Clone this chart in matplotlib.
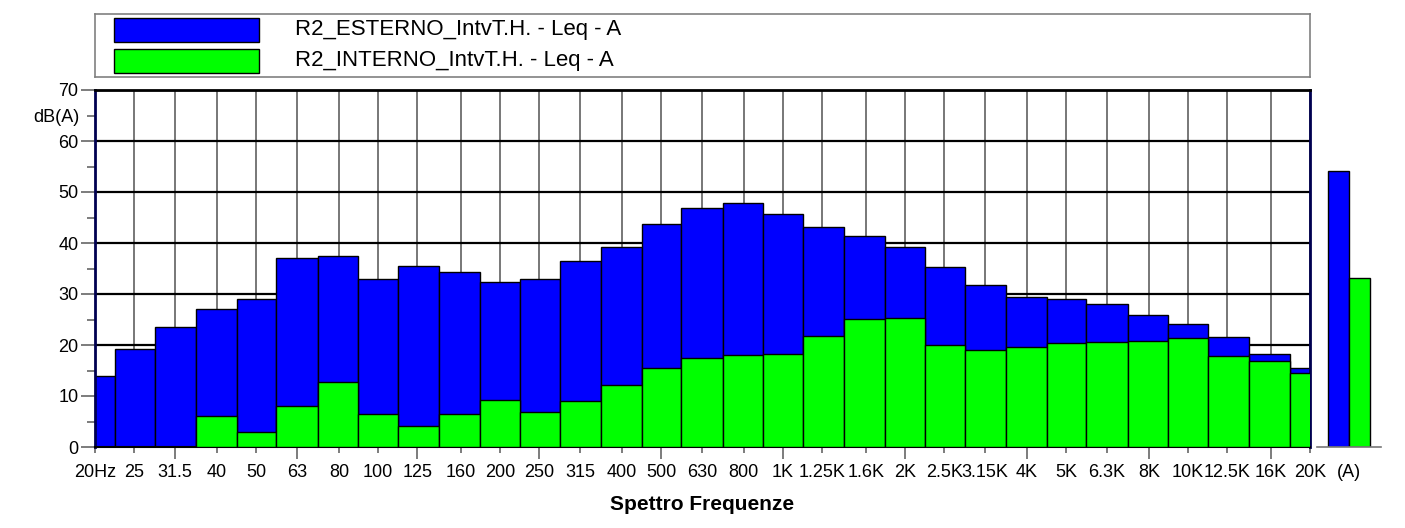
import numpy as np
import matplotlib
matplotlib.use("Agg")
import matplotlib.pyplot as plt
from matplotlib.patches import Rectangle
from matplotlib.ticker import NullLocator

plt.rcParams['font.family'] = ['Liberation Sans', 'DejaVu Sans']

# Third-octave band centres (Hz) and their axis labels
bands_hz = [20, 25, 31.5, 40, 50, 63, 80, 100, 125, 160, 200, 250, 315, 400,
            500, 630, 800, 1000, 1250, 1600, 2000, 2500, 3150, 4000, 5000,
            6300, 8000, 10000, 12500, 16000, 20000]
band_labels = ["20Hz", "25", "31.5", "40", "50", "63", "80", "100", "125",
               "160", "200", "250", "315", "400", "500", "630", "800", "1K",
               "1.25K", "1.6K", "2K", "2.5K", "3.15K", "4K", "5K", "6.3K",
               "8K", "10K", "12.5K", "16K", "20K"]
octave_hz = [31.5, 63, 125, 250, 500, 1000, 2000, 4000, 8000, 16000]

# Leq spectra, dB(A)
esterno_leq = [13.9, 19.3, 23.5, 27.0, 29.0, 37.1, 37.4, 32.9, 35.4, 34.3,
               32.3, 32.9, 36.4, 39.3, 43.7, 46.8, 47.9, 45.6, 43.1, 41.4,
               39.2, 35.3, 31.8, 29.5, 29.1, 28.1, 25.9, 24.1, 21.5, 18.2,
               15.4]
interno_leq = [np.nan, np.nan, np.nan, 6.0, 3.0, 8.0, 12.8, 6.4, 4.1, 6.4,
               9.2, 6.8, 9.0, 12.2, 15.4, 17.5, 18.1, 18.3, 21.8, 25.1,
               25.2, 20.0, 19.1, 19.7, 20.4, 20.6, 20.8, 21.4, 17.9, 16.9,
               14.6]

# Overall A-weighted levels
total_labels = ["(A)"]
esterno_total = 54.1
interno_total = 33.1

series_names = ["R2_ESTERNO_IntvT.H. - Leq - A", "R2_INTERNO_IntvT.H. - Leq - A"]
BLUE = "#0000FF"
GREEN = "#00FF00"

W, H = 1405, 528
fig = plt.figure(figsize=(W / 100, H / 100), dpi=100)


def px_axes(left, top, right, bottom):
    return fig.add_axes([left / W, (H - bottom) / H, (right - left) / W,
                         (bottom - top) / H])


# ---- main spectrum ----
ax = px_axes(95, 90, 1310, 447)
centres = np.array(bands_hz, dtype=float)
mids = np.sqrt(centres[:-1] * centres[1:])
lower = np.r_[centres[0] ** 2 / mids[0], mids]
upper = np.r_[mids, centres[-1] ** 2 / mids[-1]]
widths = upper - lower

ax.bar(lower, esterno_leq, width=widths, align='edge', color=BLUE,
       edgecolor='black', linewidth=1.0, zorder=2)
ax.bar(lower, interno_leq, width=widths, align='edge', color=GREEN,
       edgecolor='black', linewidth=1.0, zorder=3)

ax.set_xscale('log')
ax.set_xlim(bands_hz[0], bands_hz[-1])
ax.set_ylim(0, 70)

major_idx = [i for i, f in enumerate(bands_hz) if f in octave_hz]
minor_idx = [i for i, f in enumerate(bands_hz) if f not in octave_hz]
ax.set_xticks([bands_hz[i] for i in major_idx],
              [band_labels[i] for i in major_idx])
ax.set_xticks([bands_hz[i] for i in minor_idx],
              [band_labels[i] for i in minor_idx], minor=True)
ax.tick_params(axis='x', which='major', length=8.6, pad=3.6, width=1.2,
               color='#666666', labelsize=13)
ax.tick_params(axis='x', which='minor', length=4.3, pad=7.9, width=1.2,
               color='#666666', labelsize=13)

ax.set_yticks(range(0, 71, 10))
ax.set_yticks(range(5, 66, 10), [""] * 6 + ["dB(A)"], minor=True)
ax.tick_params(axis='y', which='major', length=10, pad=2, width=1.2,
               color='#666666', labelsize=13)
ax.tick_params(axis='y', which='minor', length=5.5, pad=5.8, width=1.2,
               color='#666666', labelsize=13)

ax.grid(axis='y', which='major', color='black', linewidth=1.6)
ax.grid(axis='x', which='both', color='#606060', linewidth=1.2)
ax.set_axisbelow(True)

for side in ('left', 'right'):
    ax.spines[side].set_color('#000050')
    ax.spines[side].set_linewidth(2)
ax.spines['top'].set_color('black')
ax.spines['top'].set_linewidth(2)
ax.spines['bottom'].set_color('black')
ax.spines['bottom'].set_linewidth(1.5)

# ---- overall level panel ----
axa = px_axes(1317, 90, 1381, 447)
axa.bar([0, 1], [esterno_total, interno_total], width=1.0,
        color=[BLUE, GREEN], edgecolor='black', linewidth=1.0)
axa.set_xlim(-1, 2)
axa.set_ylim(0, 70)
axa.set_xticks([0.5], total_labels)
axa.set_yticks([])
axa.tick_params(axis='x', length=0, pad=12.2, labelsize=13)
for side in ('left', 'right', 'top'):
    axa.spines[side].set_visible(False)
axa.spines['bottom'].set_color('#777777')
axa.spines['bottom'].set_linewidth(1.2)
axa.patch.set_alpha(0)

# ---- legend box ----
axl = px_axes(95, 14, 1310, 77)
axl.set_xlim(0, 1)
axl.set_ylim(0, 1)
axl.set_xticks([])
axl.set_yticks([])
for s in axl.spines.values():
    s.set_color('#808080')
    s.set_linewidth(1.2)
for (y0, hgt, yc), name, col in zip([(0.560, 0.381, 0.751), (0.068, 0.373, 0.254)],
                                    series_names, [BLUE, GREEN]):
    axl.add_patch(Rectangle((0.0156, y0), 0.119, hgt, facecolor=col,
                            edgecolor='black', linewidth=1.0))
    axl.text(0.1646, yc, name, fontsize=16, va='center', ha='left')

fig.text(702 / W, (H - 505) / H, "Spettro Frequenze", fontsize=15,
         fontweight='bold', ha='center', va='center')

fig.savefig("out.png", dpi=100)
